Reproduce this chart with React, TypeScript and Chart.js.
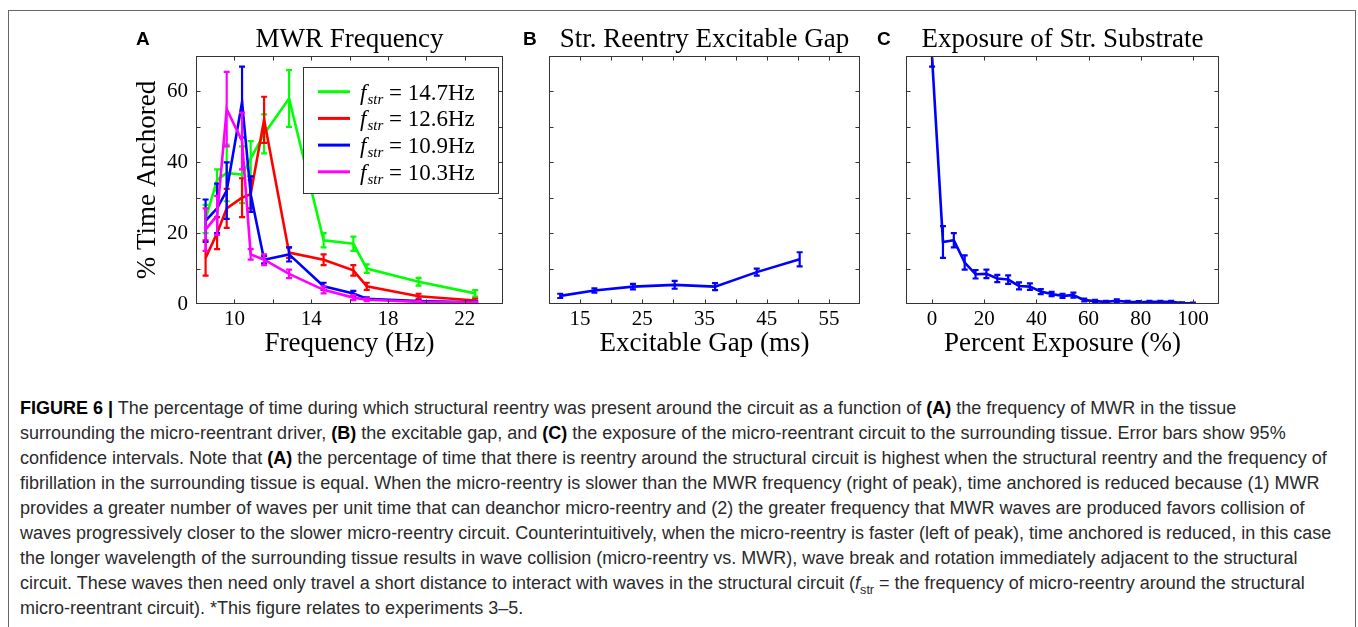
import React, { useEffect, useRef } from "react";
import { Chart, registerables } from "chart.js";

Chart.register(...registerables);

const SERIF = '"Liberation Serif", "Times New Roman", Times, serif';
const SANS = '"Liberation Sans", Arial, Helvetica, sans-serif';

// ---------- Panel A: MWR Frequency ----------
const MWR_FREQ_HZ = [8.5, 9.1, 9.6, 10.4, 10.85, 11.55, 12.85, 14.65, 16.2, 16.9, 19.6, 22.55];
const ANCHORED_F147 = [24, 35, 37, 36.5, 41, 48, 58, 18, 17, 10, 6.3, 3];
const CI_F147 = [4, 3, 8, 8, 5, 5.5, 8, 2, 2, 1.2, 1.1, 0.9];
const ANCHORED_F126 = [13, 20, 27, 30, 31, 52, 14.5, 12.5, 9.5, 5, 2.2, 1];
const CI_F126 = [5, 4.5, 5.5, 5.5, 4, 6.5, 1.5, 1.5, 1.5, 1, 0.7, 0.5];
const ANCHORED_F109 = [23.5, 27, 32, 57, 31, 12.5, 14, 5, 3, 1.5, 0.8, 0.5];
const CI_F109 = [6, 7, 8, 10, 5, 1, 2, 1, 0.7, 0.4, 0.3, 0.3];
const ANCHORED_F103 = [21, 25, 55, 46, 14, 12.5, 8.5, 4, 1.8, 1.2, 0.6, 0.4];
const CI_F103 = [6, 5.5, 10.5, 8, 1.5, 1.5, 1.2, 1, 0.7, 0.4, 0.3, 0.3];
const FSTR_LABELS = ["14.7Hz", "12.6Hz", "10.9Hz", "10.3Hz"];
const SERIES_COLORS = ["#00ff00", "#ff0000", "#0000ff", "#ff00ff"];
const A_X_TICKS = [8, 10, 12, 14, 16, 18, 20, 22, 24];
const A_X_LABELS = [10, 14, 18, 22];

const Y_TICKS = [0, 10, 20, 30, 40, 50, 60, 70];
const Y_LABELS = [0, 20, 40, 60];

// ---------- Panel B: Excitable gap ----------
const GAP_MS = [11.8, 17.3, 23.5, 30.2, 36.7, 43.4, 50.3];
const ANCHORED_GAP = [2.3, 3.8, 4.9, 5.4, 4.9, 9.0, 12.6];
const CI_GAP = [0.6, 0.6, 0.8, 1.1, 1.0, 1.0, 2.0];
const B_X_TICKS = [10, 15, 20, 25, 30, 35, 40, 45, 50, 55, 60];
const B_X_LABELS = [15, 25, 35, 45, 55];

// ---------- Panel C: Exposure ----------
const EXPOSURE_PCT = [0, 4.17, 8.33, 12.5, 16.67, 20.83, 25, 29.17, 33.33, 37.5, 41.67, 45.83, 50, 54.17, 58.33, 62.5, 66.67, 70.83, 75, 79.17, 83.33, 87.5, 91.67, 95.83, 100];
const ANCHORED_EXP = [69.5, 17.5, 18, 11.7, 8.4, 8.5, 7.2, 6.9, 5.1, 4.9, 3.5, 2.8, 2.3, 2.5, 1.1, 0.8, 0.6, 0.9, 0.6, 0.5, 0.6, 0.6, 0.6, 0.3, 0.2];
const CI_EXP = [2.5, 4.5, 2, 2, 1.2, 1.2, 1, 1.2, 1, 0.9, 0.7, 0.6, 0.6, 0.7, 0.4, 0.4, 0.3, 0.4, 0.3, 0.3, 0.3, 0.3, 0.3, 0.2, 0.2];
const C_X_TICKS = [0, 20, 40, 60, 80, 100];
const C_X_LABELS = [0, 20, 40, 60, 80, 100];

type Series = { x: number[]; y: number[]; err: number[]; color: string; order: number };
type PanelSpec = {
  left: number; top: number; width: number; height: number;
  yAxisWidth: number; padRight: number; padTop: number; xAxisHeight: number;
  xMin: number; xMax: number; yMin: number; yMax: number;
  xTicks: number[]; xLabels: number[]; yTicks: number[]; yLabels: number[];
  xTitle: string; yTitle: string | null; title: string; letter: string; letterX: number;
  series: Series[]; legend: boolean;
};

const PANELS: PanelSpec[] = [
  {
    left: 120, top: 14, width: 390, height: 352,
    yAxisWidth: 76, padRight: 7, padTop: 42, xAxisHeight: 62,
    xMin: 8, xMax: 24, yMin: 0, yMax: 70,
    xTicks: A_X_TICKS, xLabels: A_X_LABELS, yTicks: Y_TICKS, yLabels: Y_LABELS,
    xTitle: "Frequency (Hz)", yTitle: "% Time Anchored", title: "MWR Frequency", letter: "A", letterX: 16,
    series: [
      { x: MWR_FREQ_HZ, y: ANCHORED_F147, err: CI_F147, color: SERIES_COLORS[0], order: 3 },
      { x: MWR_FREQ_HZ, y: ANCHORED_F126, err: CI_F126, color: SERIES_COLORS[1], order: 2 },
      { x: MWR_FREQ_HZ, y: ANCHORED_F109, err: CI_F109, color: SERIES_COLORS[2], order: 1 },
      { x: MWR_FREQ_HZ, y: ANCHORED_F103, err: CI_F103, color: SERIES_COLORS[3], order: 0 },
    ],
    legend: true,
  },
  {
    left: 510, top: 14, width: 360, height: 352,
    yAxisWidth: 39, padRight: 10, padTop: 42, xAxisHeight: 62,
    xMin: 10, xMax: 60, yMin: 0, yMax: 70,
    xTicks: B_X_TICKS, xLabels: B_X_LABELS, yTicks: Y_TICKS, yLabels: [],
    xTitle: "Excitable Gap (ms)", yTitle: null, title: "Str. Reentry Excitable Gap", letter: "B", letterX: 13,
    series: [{ x: GAP_MS, y: ANCHORED_GAP, err: CI_GAP, color: "#0000ff", order: 0 }],
    legend: false,
  },
  {
    left: 870, top: 14, width: 360, height: 352,
    yAxisWidth: 36, padRight: 11, padTop: 42, xAxisHeight: 62,
    xMin: -10, xMax: 110, yMin: 0, yMax: 70,
    xTicks: C_X_TICKS, xLabels: C_X_LABELS, yTicks: Y_TICKS, yLabels: [],
    xTitle: "Percent Exposure (%)", yTitle: null, title: "Exposure of Str. Substrate", letter: "C", letterX: 7,
    series: [{ x: EXPOSURE_PCT, y: ANCHORED_EXP, err: CI_EXP, color: "#0000ff", order: 0 }],
    legend: false,
  },
];

function decorPlugin(spec: PanelSpec) {
  return {
    id: "decor" + spec.letter,
    afterDatasetDraw(chart: any, args: any) {
      const s = spec.series[args.index];
      if (!s) return;
      const { ctx, chartArea } = chart;
      const xs = chart.scales.x;
      const ys = chart.scales.y;
      ctx.save();
      ctx.beginPath();
      ctx.rect(chartArea.left, chartArea.top, chartArea.right - chartArea.left, chartArea.bottom - chartArea.top);
      ctx.clip();
      ctx.strokeStyle = s.color;
      ctx.lineWidth = 2.2;
      ctx.lineCap = "butt";
      for (let i = 0; i < s.x.length; i++) {
        const px = xs.getPixelForValue(s.x[i]);
        const y1 = ys.getPixelForValue(s.y[i] - s.err[i]);
        const y2 = ys.getPixelForValue(s.y[i] + s.err[i]);
        ctx.beginPath();
        ctx.moveTo(px, y1);
        ctx.lineTo(px, y2);
        ctx.moveTo(px - 3, y1);
        ctx.lineTo(px + 3, y1);
        ctx.moveTo(px - 3, y2);
        ctx.lineTo(px + 3, y2);
        ctx.stroke();
      }
      ctx.restore();
    },
    afterDraw(chart: any) {
      const { ctx, chartArea } = chart;
      const { left, right, top, bottom } = chartArea;
      const xs = chart.scales.x;
      const ys = chart.scales.y;
      ctx.save();
      // legend (panel A)
      if (spec.legend) {
        const bx = 183, by = 53, bw = 195, bh = 126;
        ctx.fillStyle = "#ffffff";
        ctx.fillRect(bx, by, bw, bh);
        ctx.strokeStyle = "#333333";
        ctx.lineWidth = 1;
        ctx.strokeRect(bx + 0.5, by + 0.5, bw, bh);
        for (let i = 0; i < FSTR_LABELS.length; i++) {
          const ry = 77.7 + i * 26.7;
          ctx.strokeStyle = SERIES_COLORS[i];
          ctx.lineWidth = 3;
          ctx.beginPath();
          ctx.moveTo(198, ry);
          ctx.lineTo(230, ry);
          ctx.stroke();
          ctx.fillStyle = "#000";
          ctx.textAlign = "left";
          ctx.textBaseline = "alphabetic";
          let tx = 240;
          ctx.font = `italic 23px ${SERIF}`;
          ctx.fillText("f", tx, ry + 8);
          tx += ctx.measureText("f").width + 1;
          ctx.font = `italic 15px ${SERIF}`;
          ctx.fillText("str", tx, ry + 12);
          tx += ctx.measureText("str").width;
          ctx.font = `23px ${SERIF}`;
          ctx.fillText(" = " + FSTR_LABELS[i], tx, ry + 8);
        }
      }
      // frame
      ctx.strokeStyle = "#333333";
      ctx.lineWidth = 1;
      const l = Math.round(left) + 0.5, r = Math.round(right) - 0.5;
      const t = Math.round(top) + 0.5, b = Math.round(bottom) - 0.5;
      ctx.strokeRect(l, t, r - l, b - t);
      // inward ticks
      ctx.beginPath();
      for (const v of spec.xTicks) {
        if (v <= spec.xMin || v >= spec.xMax) continue;
        const px = Math.round(xs.getPixelForValue(v)) + 0.5;
        ctx.moveTo(px, b);
        ctx.lineTo(px, b - 4);
        ctx.moveTo(px, t);
        ctx.lineTo(px, t + 4);
      }
      for (const v of spec.yTicks) {
        if (v <= spec.yMin || v >= spec.yMax) continue;
        const py = Math.round(ys.getPixelForValue(v)) + 0.5;
        ctx.moveTo(l, py);
        ctx.lineTo(l + 4, py);
        ctx.moveTo(r, py);
        ctx.lineTo(r - 4, py);
      }
      ctx.stroke();
      // title and panel letter
      ctx.fillStyle = "#000";
      ctx.textBaseline = "alphabetic";
      ctx.textAlign = "center";
      ctx.font = `27px ${SERIF}`;
      ctx.fillText(spec.title, (left + right) / 2, 33);
      ctx.textAlign = "left";
      ctx.font = `bold 19px ${SANS}`;
      ctx.fillText(spec.letter, spec.letterX, 31);
      ctx.restore();
    },
  };
}

function buildConfig(spec: PanelSpec): any {
  return {
    type: "line",
    data: {
      datasets: spec.series.map((s) => ({
        data: s.x.map((x, j) => ({ x, y: s.y[j] })),
        borderColor: s.color,
        backgroundColor: s.color,
        borderWidth: 2.6,
        pointRadius: 0,
        tension: 0,
        fill: false,
        order: s.order,
      })),
    },
    options: {
      animation: false,
      responsive: false,
      maintainAspectRatio: false,
      events: [],
      layout: { padding: { top: spec.padTop, right: spec.padRight, left: 0, bottom: 0 } },
      plugins: { legend: { display: false }, title: { display: false }, tooltip: { enabled: false } },
      scales: {
        x: {
          type: "linear",
          min: spec.xMin,
          max: spec.xMax,
          afterFit: (s: any) => { s.height = spec.xAxisHeight; },
          afterBuildTicks: (s: any) => { s.ticks = spec.xTicks.map((v) => ({ value: v })); },
          grid: { display: false, drawTicks: false },
          border: { display: false },
          ticks: {
            padding: 3,
            autoSkip: false,
            maxRotation: 0,
            color: "#000",
            font: { family: SERIF, size: 21 },
            callback: (v: number) => (spec.xLabels.includes(v) ? String(v) : ""),
          },
          title: {
            display: true,
            text: spec.xTitle,
            color: "#000",
            font: { family: SERIF, size: 27 },
            padding: { top: 0, bottom: 6 },
          },
        },
        y: {
          type: "linear",
          min: spec.yMin,
          max: spec.yMax,
          afterFit: (s: any) => { s.width = spec.yAxisWidth; },
          afterBuildTicks: (s: any) => { s.ticks = spec.yTicks.map((v) => ({ value: v })); },
          grid: { display: false, drawTicks: false },
          border: { display: false },
          ticks: {
            padding: 8,
            autoSkip: false,
            color: "#000",
            font: { family: SERIF, size: 21 },
            callback: (v: number) => (spec.yLabels.includes(v) ? String(v) : ""),
          },
          title: {
            display: spec.yTitle !== null,
            text: spec.yTitle || "",
            color: "#000",
            font: { family: SERIF, size: 27 },
            padding: { top: 12, bottom: 0 },
          },
        },
      },
    },
    plugins: [decorPlugin(spec)],
  };
}

function Panel({ spec }: { spec: PanelSpec }) {
  const ref = useRef<HTMLCanvasElement>(null);
  useEffect(() => {
    if (!ref.current) return;
    const chart = new Chart(ref.current, buildConfig(spec));
    return () => chart.destroy();
  }, [spec]);
  return (
    <canvas
      ref={ref}
      width={spec.width}
      height={spec.height}
      style={{ position: "absolute", left: spec.left, top: spec.top, width: spec.width, height: spec.height }}
    />
  );
}

const B = ({ children }: { children: React.ReactNode }) => (
  <b style={{ fontWeight: 700, color: "#000" }}>{children}</b>
);

export default function App() {
  return (
    <div style={{ position: "absolute", left: 0, top: 0, width: 1358, height: 627, overflow: "hidden", background: "#fff" }}>
      <div
        style={{
          position: "absolute", left: 8, top: 10, width: 1348, height: 617, boxSizing: "border-box",
          borderTop: "1px solid #666", borderLeft: "1px solid #666", borderRight: "1px solid #666",
        }}
      />
      {PANELS.map((p) => (
        <Panel key={p.letter} spec={p} />
      ))}
      <div
        style={{
          position: "absolute", left: 20, top: 396, fontFamily: SANS, fontSize: 18,
          lineHeight: "25px", color: "#2a2a2a", whiteSpace: "nowrap",
        }}
      >
        <div><B>FIGURE 6 |</B> The percentage of time during which structural reentry was present around the circuit as a function of <B>(A)</B> the frequency of MWR in the tissue</div>
        <div>surrounding the micro-reentrant driver, <B>(B)</B> the excitable gap, and <B>(C)</B> the exposure of the micro-reentrant circuit to the surrounding tissue. Error bars show 95%</div>
        <div>confidence intervals. Note that <B>(A)</B> the percentage of time that there is reentry around the structural circuit is highest when the structural reentry and the frequency of</div>
        <div>fibrillation in the surrounding tissue is equal. When the micro-reentry is slower than the MWR frequency (right of peak), time anchored is reduced because (1) MWR</div>
        <div>provides a greater number of waves per unit time that can deanchor micro-reentry and (2) the greater frequency that MWR waves are produced favors collision of</div>
        <div>waves progressively closer to the slower micro-reentry circuit. Counterintuitively, when the micro-reentry is faster (left of peak), time anchored is reduced, in this case</div>
        <div>the longer wavelength of the surrounding tissue results in wave collision (micro-reentry vs. MWR), wave break and rotation immediately adjacent to the structural</div>
        <div>circuit. These waves then need only travel a short distance to interact with waves in the structural circuit (<i>f</i><sub style={{ fontSize: "0.7em", lineHeight: 0 }}>str</sub> = the frequency of micro-reentry around the structural</div>
        <div>micro-reentrant circuit). *This figure relates to experiments 3–5.</div>
      </div>
    </div>
  );
}
